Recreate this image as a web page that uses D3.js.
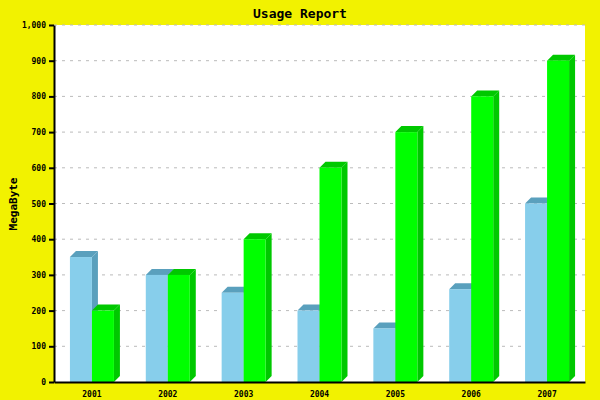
<!DOCTYPE html>
<html><head><meta charset="utf-8">
<script src="https://cdn.jsdelivr.net/npm/d3@7"></script>
<style>body{margin:0;background:#f2f200}</style>
</head><body>
<svg id="c" width="600" height="400"></svg>
<script>
const years = ['2001','2002','2003','2004','2005','2006','2007']
const seriesA = [350, 300, 250, 200, 150, 260, 500]
const seriesB = [200, 300, 400, 600, 700, 800, 900]
const yTicks = [0,100,200,300,400,500,600,700,800,900,1000]

const svg = d3.select('#c')
const mLeft = 54, mRight = 585, mTop = 25, mBottom = 382, depth = 6
svg.append('rect').attr('width', 600).attr('height', 400).attr('fill', '#f2f200')
svg.append('rect').attr('x', mLeft).attr('y', mTop).attr('width', mRight - mLeft).attr('height', mBottom - mTop).attr('fill', '#fff')

const x = d3.scaleBand().domain(years).range([mLeft, mRight])
const y = d3.scaleLinear().domain([0, 1000]).range([mBottom, mTop])

svg.append('g').selectAll('line').data(yTicks.slice(1)).join('line')
    .attr('x1', mLeft).attr('x2', mRight).attr('y1', d => y(d)).attr('y2', d => y(d))
    .attr('stroke', '#bbb').attr('stroke-dasharray', '3,5')

const font = 'DejaVu Sans Mono, monospace'
const series = [
    {vals: seriesA, front: '#87ceeb', dark: '#5aa0bd', off: -22},
    {vals: seriesB, front: '#00ff00', dark: '#00c800', off: 0}
]
series.forEach(s => {
    years.forEach((yr, i) => {
        const x0 = x(yr) + x.bandwidth() / 2 + s.off, w = 22, yt = y(s.vals[i])
        svg.append('polygon')
            .attr('points', `${x0+w},${yt} ${x0+w+depth},${yt-depth} ${x0+w+depth},${mBottom-depth} ${x0+w},${mBottom}`)
            .attr('fill', s.dark)
        svg.append('polygon')
            .attr('points', `${x0},${yt} ${x0+depth},${yt-depth} ${x0+w+depth},${yt-depth} ${x0+w},${yt}`)
            .attr('fill', s.dark)
        svg.append('rect').attr('x', x0).attr('y', yt).attr('width', w).attr('height', mBottom - yt).attr('fill', s.front)
    })
})

const ya = svg.append('g').attr('transform', `translate(${mLeft},0)`)
    .call(d3.axisLeft(y).tickValues(yTicks).tickSize(5).tickSizeOuter(0))
ya.selectAll('text').attr('font-family', font).attr('font-size', 8).attr('font-weight', 'bold')
const xa = svg.append('g').attr('transform', `translate(0,${mBottom})`)
    .call(d3.axisBottom(x).tickSize(0).tickPadding(9))
xa.selectAll('text').attr('font-family', font).attr('font-size', 8).attr('font-weight', 'bold')
svg.selectAll('.domain').attr('stroke', '#000').attr('stroke-width', 2)
svg.selectAll('.tick line').attr('stroke', '#000').attr('stroke-width', 2)

svg.append('text').attr('x', 300).attr('y', 18).attr('text-anchor', 'middle')
    .attr('font-family', font).attr('font-weight', 'bold').attr('font-size', 13).text('Usage Report')
svg.append('text').attr('transform', 'translate(17,204) rotate(-90)').attr('text-anchor', 'middle')
    .attr('font-family', font).attr('font-weight', 'bold').attr('font-size', 11).text('MegaByte')
</script>
</body></html>
